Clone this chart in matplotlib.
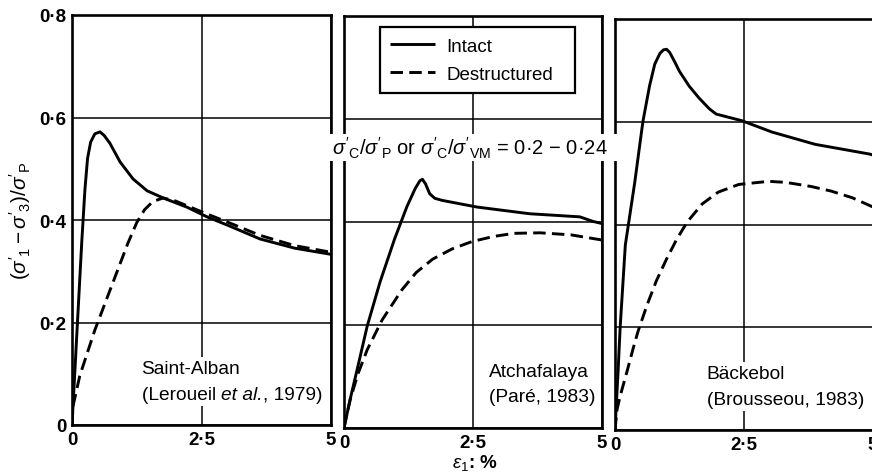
import matplotlib
matplotlib.use("Agg")
import matplotlib.pyplot as plt
from matplotlib.patches import Rectangle
from matplotlib.offsetbox import TextArea, HPacker, VPacker, AnchoredOffsetbox

plt.rcParams['font.family'] = ['Liberation Sans', 'DejaVu Sans']
plt.rcParams['mathtext.fontset'] = 'custom'
plt.rcParams['mathtext.rm'] = 'Liberation Sans'
plt.rcParams['mathtext.it'] = 'Liberation Sans:italic'
plt.rcParams['mathtext.bf'] = 'Liberation Sans:bold'
plt.rcParams['mathtext.sf'] = 'Liberation Sans'
plt.rcParams['lines.scale_dashes'] = False

# ---- data: axial strain (%) vs normalised deviator stress ----
sites = ["Saint-Alban", "Atchafalaya", "Bäckebol"]
# source of each data set: (plain, italic, plain) parts of one line
refs = [("(Leroueil ", "et al.", ", 1979)"),
        ("(Paré, 1983)", "", ""),
        ("(Brousseou, 1983)", "", "")]

# Saint-Alban
sa_intact_x = [0, 0.10, 0.19, 0.25, 0.30, 0.36, 0.44, 0.54, 0.62, 0.73, 0.93, 1.18, 1.45,
               1.76, 2.22, 2.61, 3.0, 3.63, 4.3, 5.0]
sa_intact_y = [0, 0.19, 0.36, 0.46, 0.52, 0.552, 0.568, 0.572, 0.565, 0.550, 0.513, 0.480,
               0.457, 0.443, 0.425, 0.406, 0.39, 0.363, 0.345, 0.333]
sa_destr_x = [0, 0.02, 0.15, 0.44, 0.79, 1.08, 1.25, 1.40, 1.56, 1.76, 2.0, 2.6, 3.0,
              3.63, 4.3, 5.0]
sa_destr_y = [0, 0.037, 0.096, 0.185, 0.278, 0.355, 0.395, 0.420, 0.436, 0.443, 0.437,
              0.412, 0.396, 0.37, 0.35, 0.337]

# Atchafalaya
at_intact_x = [0, 0.12, 0.27, 0.45, 0.70, 0.98, 1.22, 1.38, 1.47, 1.52, 1.58, 1.66, 1.76,
               1.90, 2.58, 3.6, 4.57, 4.83, 5.0]
at_intact_y = [0, 0.056, 0.12, 0.198, 0.284, 0.367, 0.43, 0.465, 0.480, 0.483, 0.474,
               0.455, 0.446, 0.442, 0.429, 0.416, 0.41, 0.401, 0.397]
at_destr_x = [0, 0.04, 0.12, 0.27, 0.45, 0.74, 1.12, 1.40, 1.72, 2.1, 2.48, 2.9, 3.3,
              3.8, 4.4, 5.0]
at_destr_y = [0, 0.02, 0.055, 0.105, 0.152, 0.210, 0.268, 0.302, 0.328, 0.348, 0.362,
              0.372, 0.378, 0.379, 0.375, 0.365]

# Bäckebol
bk_intact_x = [0, 0.06, 0.1, 0.2, 0.38, 0.54, 0.67, 0.77, 0.87, 0.94, 1.0, 1.06, 1.15,
               1.25, 1.44, 1.63, 1.83, 1.96, 2.15, 2.46, 3.04, 3.88, 4.94, 5.0]
bk_intact_y = [0, 0.115, 0.2, 0.36, 0.48, 0.60, 0.67, 0.712, 0.733, 0.740, 0.741, 0.735,
               0.718, 0.698, 0.669, 0.646, 0.625, 0.615, 0.610, 0.602, 0.580, 0.556,
               0.537, 0.535]
bk_destr_x = [0, 0.04, 0.1, 0.23, 0.35, 0.44, 0.62, 0.80, 1.0, 1.2, 1.4, 1.69, 2.0, 2.4,
              2.98, 3.31, 3.8, 4.19, 4.6, 5.0]
bk_destr_y = [0, 0.040, 0.066, 0.113, 0.158, 0.190, 0.243, 0.290, 0.333, 0.372, 0.405,
              0.440, 0.463, 0.478, 0.484, 0.482, 0.474, 0.465, 0.452, 0.434]

intact = [(sa_intact_x, sa_intact_y), (at_intact_x, at_intact_y), (bk_intact_x, bk_intact_y)]
destr = [(sa_destr_x, sa_destr_y), (at_destr_x, at_destr_y), (bk_destr_x, bk_destr_y)]

x_ticks = [0, 2.5, 5]
x_ticklabels = ["0", "2·5", "5"]
y_ticks = [0, 0.2, 0.4, 0.6, 0.8]
y_ticklabels = ["0", "0·2", "0·4", "0·6", "0·8"]
legend_labels = ["Intact", "Destructured"]

# ---- layout (pixel boxes: left, right, top, bottom) ----
W, H = 872, 477
fig = plt.figure(figsize=(W / 100, H / 100), dpi=100)


def box(l, r, t, b):
    return [l / W, 1 - b / H, (r - l) / W, (b - t) / H]


boxes = [box(72, 331, 16, 426), box(344, 602, 17, 429), box(615, 873, 20, 431)]
note_x = [0.255, 0.550, 0.342]
NOTE_FS = 13.8


def site_note(name, parts):
    plain1, ital, plain2 = parts
    pieces = [TextArea(plain1, textprops=dict(fontsize=NOTE_FS))]
    if ital:
        pieces.append(TextArea(ital, textprops=dict(fontsize=NOTE_FS, fontstyle='italic')))
    if plain2:
        pieces.append(TextArea(plain2, textprops=dict(fontsize=NOTE_FS)))
    line2 = HPacker(children=pieces, align='baseline', pad=0, sep=0)
    line1 = TextArea(name, textprops=dict(fontsize=NOTE_FS))
    return VPacker(children=[line1, line2], align='left', pad=0, sep=6)


axes = []
for i, rect in enumerate(boxes):
    ax = fig.add_axes(rect)
    axes.append(ax)
    ax.set_xlim(0, 5)
    ax.set_ylim(0, 0.8)
    ax.set_xticks(x_ticks)
    ax.set_xticklabels(x_ticklabels, fontsize=13.5, fontweight='bold')
    ax.set_yticks(y_ticks)
    if i == 0:
        ax.set_yticklabels(y_ticklabels, fontsize=13.5, fontweight='bold')
    else:
        ax.set_yticklabels([])
    ax.tick_params(length=0, pad=4)
    ax.grid(True, color='black', linewidth=1.1)
    ax.set_axisbelow(True)
    for s in ax.spines.values():
        s.set_linewidth(1.9)
        s.set_color('black')

    ix, iy = intact[i]
    dx, dy = destr[i]
    ax.plot(ix, iy, color='black', linewidth=2.1, solid_capstyle='butt',
            solid_joinstyle='round', label=legend_labels[0], zorder=3)
    ax.plot(dx, dy, color='black', linewidth=2.1, linestyle=(0, (9, 4.5)),
            dash_capstyle='butt', label=legend_labels[1], zorder=3)

    # site name on a white patch that breaks the grid lines only
    note = AnchoredOffsetbox(loc='upper left', child=site_note(sites[i], refs[i]),
                             bbox_to_anchor=(note_x[i], 0.166),
                             bbox_transform=ax.transAxes, pad=0.25, borderpad=0,
                             frameon=True)
    note.patch.set_facecolor('white')
    note.patch.set_edgecolor('none')
    note.set_zorder(1)
    ax.add_artist(note)

# legend in the middle panel
leg = axes[1].legend(loc='upper left', bbox_to_anchor=(0.1395, 0.794, 0.756, 0.179),
                     mode='expand', borderaxespad=0, fontsize=13.5, frameon=True,
                     fancybox=False, framealpha=1, edgecolor='black',
                     handlelength=2.4, handletextpad=0.6, labelspacing=0.6,
                     borderpad=0.55)
leg.get_frame().set_linewidth(1.6)
leg.set_zorder(6)

# ratio note spanning the panels
fig.patches.append(Rectangle((328 / W, 1 - 162 / H), (620 - 328) / W, 27 / H,
                             transform=fig.transFigure, facecolor='white',
                             edgecolor='none', zorder=4))
fig.text(470 / W, 1 - 148 / H,
         r"$\sigma'_\mathrm{C}/\sigma'_\mathrm{P}$ or $\sigma'_\mathrm{C}/\sigma'_\mathrm{VM}$ = 0·2 − 0·24",
         ha='center', va='center', fontsize=14.5, zorder=5)

# axis labels
fig.text(20 / W, 1 - 221 / H, r"$(\sigma'_1 - \sigma'_3)/\sigma'_\mathrm{P}$",
         rotation=90, ha='center', va='center', fontsize=15)
fig.text(475 / W, 1 - 463 / H, r"$\varepsilon_1$: %", ha='center', va='center',
         fontsize=13.5, fontweight='bold')

fig.savefig("out.png", dpi=100)
